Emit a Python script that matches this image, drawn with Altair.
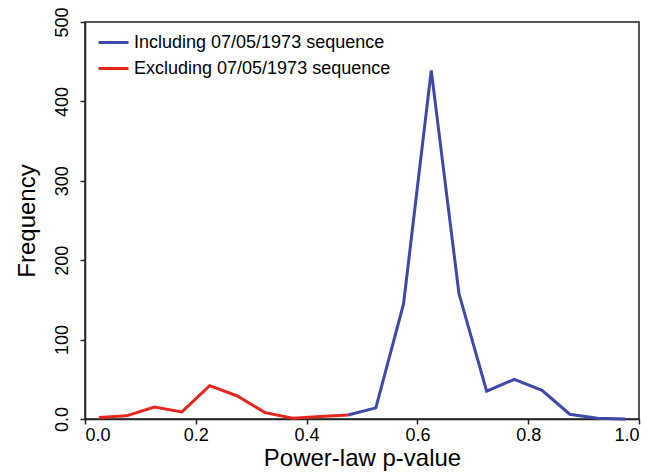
import altair as alt
import pandas as pd

series_names = ["Including 07/05/1973 sequence", "Excluding 07/05/1973 sequence"]
series_colors = ["#3F47A8", "#E3261E"]

incl_p = [0.475, 0.525, 0.575, 0.625, 0.675, 0.725, 0.775, 0.825, 0.875, 0.925, 0.975]
incl_freq = [5, 14, 145, 439, 158, 35, 50, 36, 6, 1, 0]

excl_p = [0.025, 0.075, 0.125, 0.175, 0.225, 0.275, 0.325, 0.375, 0.425, 0.475]
excl_freq = [2, 4, 15, 9, 42, 29, 8, 1, 3, 5]

x_ticks = [0.0, 0.2, 0.4, 0.6, 0.8, 1.0]
y_ticks = [0, 100, 200, 300, 400, 500]

df = pd.concat([
    pd.DataFrame({"p": incl_p, "freq": incl_freq, "series": series_names[0]}),
    pd.DataFrame({"p": excl_p, "freq": excl_freq, "series": series_names[1]}),
])

FONT = "Liberation Sans"

chart = alt.Chart(df).mark_line(strokeWidth=3).encode(
    x=alt.X("p:Q",
            scale=alt.Scale(domain=[0, 1], nice=False, zero=False),
            axis=alt.Axis(values=x_ticks, format=".1f", title="Power-law p-value",
                          labelFontSize=18, titleFontSize=24, labelPadding=2,
                          titlePadding=2, tickSize=5)),
    y=alt.Y("freq:Q",
            scale=alt.Scale(domain=[0, 500], nice=False),
            axis=alt.Axis(values=y_ticks, title="Frequency",
                          labelExpr="datum.value == 0 ? '0.0' : datum.label",
                          labelAngle=-90, labelAlign="center", labelBaseline="bottom",
                          labelFontSize=18, titleFontSize=24, labelPadding=9,
                          titlePadding=14, tickSize=5)),
    color=alt.Color("series:N",
                    scale=alt.Scale(domain=series_names, range=series_colors),
                    legend=alt.Legend(title=None, orient="none", legendX=12, legendY=4,
                                      symbolType="stroke", symbolSize=900,
                                      symbolStrokeWidth=3, labelFontSize=18,
                                      labelOffset=4, rowPadding=-10, labelLimit=400,
                                      labelColor="black", labelFont=FONT)),
).properties(
    width=554, height=397,
    autosize=alt.AutoSizeParams(type="none"),
    padding={"left": 77, "top": 14, "right": 16, "bottom": 54},
).configure_axis(
    grid=False, domainColor="#222", domainWidth=1.5, tickColor="#222", tickWidth=1.5,
    labelColor="black", titleColor="black", labelFont=FONT, titleFont=FONT,
    titleFontWeight="normal",
).configure_view(
    stroke="#222", strokeWidth=1.5,
)

chart.save("out.html", embed_options={"renderer": "svg", "actions": False})
